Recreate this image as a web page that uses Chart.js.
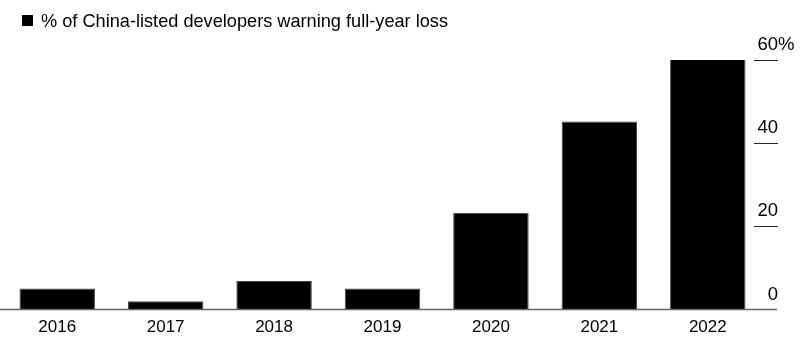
<!DOCTYPE html>
<html><head><meta charset="utf-8">
<script src="https://cdn.jsdelivr.net/npm/chart.js@4/dist/chart.umd.min.js"></script>
<style>html,body{margin:0;padding:0;background:#fff}#wrap{width:812px;height:352px;position:relative}</style>
</head><body><div id="wrap"><canvas id="c"></canvas></div>
<script>
const categories = ['2016','2017','2018','2019','2020','2021','2022'];
const lossShare = [5.1, 2.0, 6.9, 5.1, 23.3, 45.2, 60.4];
const yTicks = [0, 20, 40, 60];
const legendText = '% of China-listed developers warning full-year loss';
const FONT = '"Liberation Sans", Arial, Helvetica, sans-serif';

const overlay = {
  id: 'overlay',
  afterDraw(chart) {
    const ctx = chart.ctx, y = chart.scales.y;
    ctx.save();
    // legend
    ctx.fillStyle = '#000';
    ctx.fillRect(22, 15, 11, 11);
    ctx.font = '18.5px ' + FONT;
    ctx.textBaseline = 'alphabetic';
    ctx.textAlign = 'left';
    const w = ctx.measureText(legendText).width;
    ctx.save();
    ctx.translate(41, 27);
    ctx.scale(407 / w, 1);
    ctx.fillText(legendText, 0, 0);
    ctx.restore();
    // baseline
    const y0 = y.getPixelForValue(0);
    ctx.strokeStyle = '#666';
    ctx.lineWidth = 1.5;
    ctx.beginPath(); ctx.moveTo(0, y0); ctx.lineTo(777, y0); ctx.stroke();
    // ticks and labels
    ctx.font = '18.5px ' + FONT;
    ctx.strokeStyle = '#222';
    ctx.lineWidth = 1;
    yTicks.forEach((v, i) => {
      const py = Math.round(y.getPixelForValue(v)) + 0.5;
      if (v !== 0) { ctx.beginPath(); ctx.moveTo(754, py); ctx.lineTo(778, py); ctx.stroke(); }
      ctx.textAlign = 'right';
      ctx.fillText(String(v), 778, py - 10.5);
      if (i === yTicks.length - 1) { ctx.textAlign = 'left'; ctx.fillText('%', 778, py - 10.5); }
    });
    ctx.restore();
  }
};

new Chart(document.getElementById('c'), {
  type: 'bar',
  data: { labels: categories, datasets: [{ data: lossShare, backgroundColor: '#000', borderColor: '#444', borderWidth: 1, barPercentage: 0.696, categoryPercentage: 1 }] },
  options: {
    responsive: true, maintainAspectRatio: false, animation: false,
    layout: { padding: { top: 60, left: 3, right: 50, bottom: 6 } },
    plugins: { legend: { display: false }, tooltip: { enabled: false } },
    scales: {
      x: { grid: { display: false, drawTicks: false }, border: { display: false },
           ticks: { padding: 8, color: '#000', font: { family: FONT, size: 17 } } },
      y: { display: false, min: 0, max: 60 }
    }
  },
  plugins: [overlay]
});
</script></body></html>
